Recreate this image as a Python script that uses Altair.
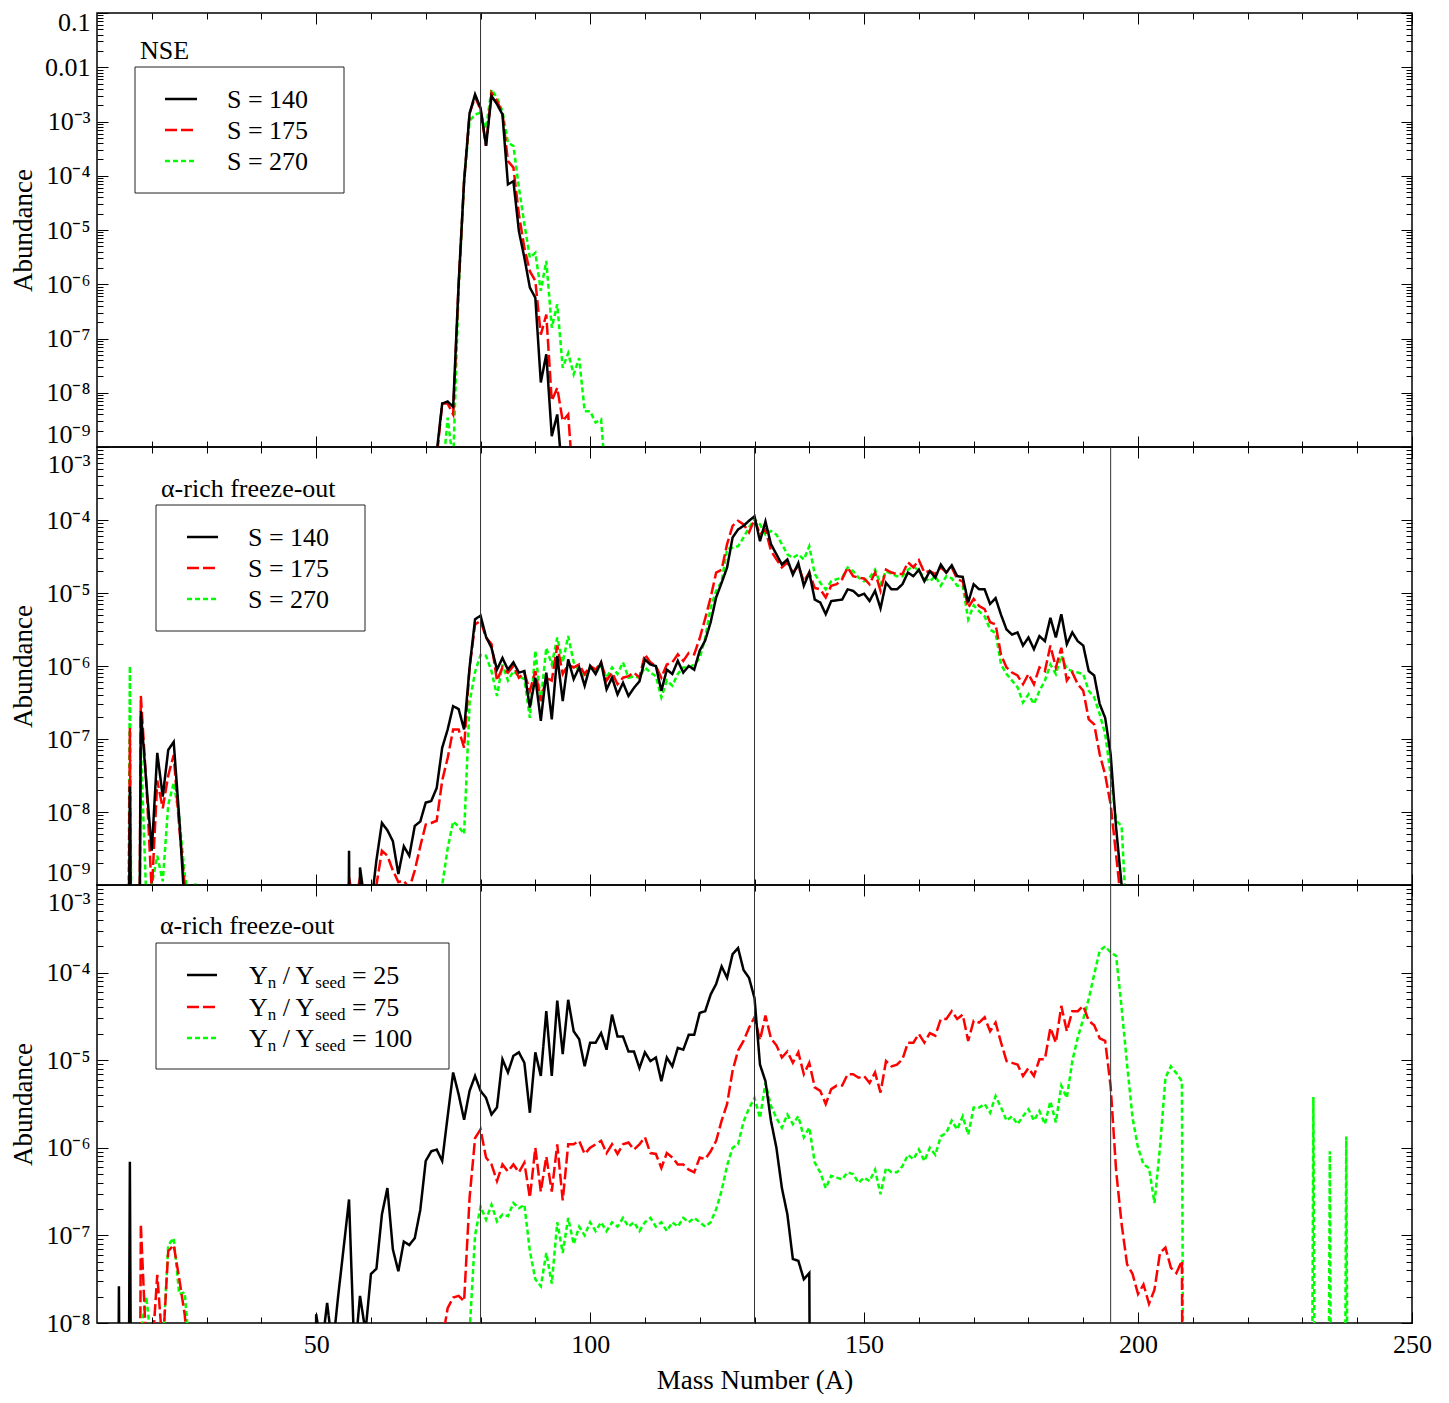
import altair as alt
import pandas as pd

FONT = "Liberation Serif"
W = 1315
H1, H2, H3 = 434, 438, 438
LOW = -20.0  # effectively zero abundance (drawn far below the panel, clipped)

# ---------------------------------------------------------------------------
# Data: log10(abundance) at consecutive mass numbers, as (first A, values)
# ---------------------------------------------------------------------------
# Panel 1 : NSE
nse_s140 = [(71, [
    LOW, -9.1, -8.20, -8.16, -8.26, -6.0, -4.1, -2.85, -2.50, -2.75,
    -3.45, -2.53, -2.68, -2.87, -4.16, -4.10, -5.02, -5.51, -6.06, -6.25,
    -7.81, -7.29, -8.80, -8.40, -9.6, LOW])]
nse_s175 = [(71, [
    LOW, -9.2, -8.2, -8.2, -8.4, -6.0, -4.1, -2.85, -2.55, -2.78,
    -3.45, -2.47, -2.62, -2.85, -3.73, -3.85, -4.71, -5.33, -5.76, -5.94,
    -6.93, -6.56, -8.15, -7.91, -8.52, -8.40, -9.8, LOW])]
nse_s270 = [(72, [
    LOW, -9.6, -8.46, -9.3, -6.1, -4.1, -2.99, -2.87, -2.84, -3.13,
    -2.41, -2.56, -2.81, -3.39, -3.45, -4.22, -4.89, -5.51, -5.42, -6.12,
    -5.57, -6.80, -6.37, -7.54, -7.27, -7.66, -7.36, -8.34, -8.34, -8.55,
    -8.49, -9.8, LOW])]

# Panel 2 : alpha-rich freeze-out, entropy S
alpha_s140 = [
    (15, [LOW, -7.65, LOW, -6.62, -7.6, -8.53, -7.19, -7.79, -7.15, -7.04, -8.07, -9.3, LOW]),
    (55, [
        LOW, -8.53, LOW, -8.76, -9.3, -9.3, -8.66, -8.15, -8.25, -8.40,
        -8.85, -8.47, -8.60, -8.19, -8.13, -7.87, -7.85, -7.67, -7.12, -6.87,
        -6.55, -6.59, -6.87, -6.02, -5.36, -5.31, -5.60, -5.75, -6.05, -5.89,
        -6.05, -5.95, -6.09, -6.07, -6.57, -6.16, -6.75, -6.09, -6.73, -5.86,
        -6.48, -5.91, -6.18, -6.02, -6.27, -6.00, -6.11, -5.95, -6.32, -6.16,
        -6.39, -6.23, -6.41, -6.30, -6.21, -5.91, -5.98, -6.00, -6.34, -6.05,
        -6.11, -5.93, -6.09, -6.00, -6.05, -5.79, -5.65, -5.40, -5.06, -4.86,
        -4.65, -4.24, -4.13, -4.08, -4.01, -3.95, -4.29, -4.02, -4.33, -4.47,
        -4.61, -4.54, -4.75, -4.59, -4.90, -4.72, -5.09, -5.13, -5.29, -5.11,
        -5.10, -5.09, -4.95, -4.97, -5.04, -5.01, -5.11, -4.97, -5.21, -4.86,
        -4.95, -4.95, -4.88, -4.72, -4.77, -4.68, -4.84, -4.70, -4.79, -4.61,
        -4.72, -4.62, -4.77, -4.78, -5.13, -4.88, -4.95, -4.95, -5.15, -5.07,
        -5.30, -5.50, -5.57, -5.54, -5.72, -5.61, -5.77, -5.59, -5.66, -5.34,
        -5.61, -5.29, -5.70, -5.54, -5.66, -5.72, -6.07, -6.13, -6.52, -6.71,
        -7.21, -8.22, -9.0, -10.0, LOW])]
alpha_s175 = [
    (15, [LOW, -6.85, LOW, -6.41, -7.6, -9.1, -7.57, -7.95, -7.5, -7.22, -8.2, -9.0, LOW]),
    (55, [
        LOW, -8.9, -9.3, -8.9, -9.5, -9.5, -9.0, -8.53, -8.6, -8.8,
        -8.96, -8.94, -9.05, -8.8, -8.47, -8.17, -8.15, -8.12, -7.57, -7.26,
        -6.87, -6.87, -7.12, -6.02, -5.43, -5.38, -5.61, -5.70, -6.20, -6.02,
        -6.09, -6.00, -6.16, -6.09, -6.34, -6.07, -6.48, -6.16, -6.20, -5.72,
        -6.11, -5.98, -6.02, -5.98, -6.11, -6.00, -6.05, -5.95, -6.20, -6.09,
        -6.25, -6.16, -6.14, -6.09, -6.16, -5.84, -5.95, -6.00, -6.16, -5.98,
        -5.95, -5.84, -5.93, -5.82, -5.84, -5.62, -5.35, -5.06, -4.72, -4.68,
        -4.33, -4.08, -4.01, -4.06, -4.17, -3.99, -4.20, -4.13, -4.42, -4.54,
        -4.65, -4.58, -4.72, -4.63, -4.84, -4.72, -4.93, -4.95, -5.06, -4.90,
        -4.88, -4.81, -4.65, -4.77, -4.79, -4.80, -4.88, -4.72, -4.97, -4.68,
        -4.72, -4.74, -4.74, -4.58, -4.65, -4.55, -4.72, -4.70, -4.74, -4.65,
        -4.72, -4.65, -4.81, -4.84, -5.20, -5.08, -5.18, -5.22, -5.40, -5.43,
        -5.85, -6.02, -6.09, -6.13, -6.25, -6.11, -6.25, -6.02, -6.07, -5.72,
        -6.02, -5.75, -6.20, -6.09, -6.25, -6.34, -6.73, -6.80, -7.21, -7.49,
        -7.90, -8.59, -9.3, LOW])]
alpha_s270 = [
    (15, [LOW, -6.0, LOW, -7.1, -9.2, -9.0, -8.6, -8.95, -7.9, -7.6, -8.07, -8.85, -9.3, -8.98, LOW]),
    (72, [
        LOW, -9.0, -8.5, -8.13, -8.2, -8.3, -6.5, -6.08, -5.85, -5.86,
        -6.07, -6.41, -5.98, -6.20, -6.07, -6.14, -6.18, -6.71, -5.79, -6.48,
        -5.75, -5.98, -5.61, -5.95, -5.59, -5.95, -6.07, -6.16, -6.02, -6.09,
        -6.00, -6.16, -6.02, -6.11, -5.95, -6.16, -6.14, -6.16, -6.02, -6.09,
        -6.14, -6.43, -6.20, -6.27, -6.11, -6.02, -6.02, -5.98, -5.89, -5.62,
        -5.20, -4.97, -4.84, -4.40, -4.38, -4.36, -4.24, -4.10, -3.99, -4.06,
        -4.20, -4.15, -4.20, -4.33, -4.47, -4.52, -4.47, -4.54, -4.36, -4.74,
        -4.86, -4.95, -4.84, -4.81, -4.79, -4.65, -4.70, -4.79, -4.84, -4.79,
        -4.68, -4.88, -4.70, -4.74, -4.77, -4.77, -4.68, -4.63, -4.70, -4.79,
        -4.84, -4.77, -4.90, -4.77, -4.80, -4.90, -4.90, -5.36, -5.17, -5.25,
        -5.32, -5.50, -5.55, -5.98, -6.11, -6.20, -6.29, -6.50, -6.39, -6.52,
        -6.34, -6.20, -5.98, -6.11, -5.86, -6.04, -6.07, -6.09, -6.11, -6.34,
        -6.43, -6.66, -6.93, -7.49, -8.12, -8.19, -9.6, LOW])]

# Panel 3 : alpha-rich freeze-out, neutron-to-seed ratio
yn_25 = [
    (13, [LOW, -7.58, LOW, -6.16, LOW]),
    (49, [
        LOW, -7.9, -8.3, -7.77, -8.3, -7.7, -7.15, -6.59, -8.4, -7.69,
        -8.1, -7.44, -7.38, -6.76, -6.46, -7.16, -7.41, -7.07, -7.11, -7.03,
        -6.71, -6.15, -6.04, -6.02, -6.15, -5.64, -5.14, -5.39, -5.68, -5.35,
        -5.18, -5.35, -5.43, -5.62, -5.54, -4.99, -5.14, -4.95, -4.91, -5.03,
        -5.60, -4.91, -5.18, -4.44, -5.18, -4.32, -4.93, -4.31, -4.67, -4.76,
        -5.07, -4.80, -4.80, -4.69, -4.88, -4.48, -4.73, -4.73, -4.90, -4.90,
        -5.09, -4.91, -5.01, -4.97, -5.24, -4.97, -5.07, -4.86, -4.88, -4.71,
        -4.71, -4.46, -4.44, -4.25, -4.13, -3.93, -4.06, -3.79, -3.72, -3.97,
        -4.06, -4.29, -5.05, -5.24, -5.69, -6.00, -6.46, -6.76, -7.27, -7.29,
        -7.50, -7.43, LOW])]
yn_75 = [
    (17, [LOW, -6.87, -8.3, -8.4, -7.45, -8.3, -7.18, -7.11, -7.49, -7.9, -8.6, LOW]),
    (72, [
        LOW, -8.2, -7.83, -7.71, -7.69, -7.75, -6.57, -5.89, -5.79, -6.11,
        -6.19, -6.38, -6.19, -6.27, -6.19, -6.28, -6.17, -6.57, -6.00, -6.50,
        -6.10, -6.50, -5.96, -6.60, -5.96, -5.96, -5.92, -6.07, -6.00, -5.96,
        -5.92, -6.06, -5.96, -6.07, -5.96, -5.94, -6.02, -5.96, -5.88, -6.06,
        -6.07, -6.23, -6.06, -6.11, -6.19, -6.19, -6.25, -6.28, -6.11, -6.13,
        -6.04, -5.92, -5.69, -5.50, -5.12, -4.89, -4.78, -4.63, -4.51, -4.77,
        -4.49, -4.75, -4.83, -4.97, -4.90, -5.03, -4.91, -5.16, -5.03, -5.31,
        -5.35, -5.50, -5.33, -5.29, -5.29, -5.16, -5.16, -5.20, -5.18, -5.26,
        -5.14, -5.37, -5.01, -5.07, -5.05, -4.99, -4.80, -4.80, -4.70, -4.80,
        -4.69, -4.72, -4.53, -4.53, -4.44, -4.53, -4.48, -4.78, -4.55, -4.57,
        -4.51, -4.67, -4.57, -4.80, -5.01, -5.03, -5.05, -5.18, -5.09, -5.18,
        -4.99, -4.99, -4.63, -4.80, -4.38, -4.67, -4.44, -4.44, -4.38, -4.55,
        -4.60, -4.75, -4.78, -5.30, -6.26, -6.87, -7.33, -7.44, -7.67, -7.56,
        -7.78, -7.62, -7.20, -7.14, -7.37, -7.43, -7.29, LOW])]
yn_100 = [
    (17, [LOW, -8.1, -7.7, -8.3, -9.0, -8.3, -7.11, -7.03, -7.67, -7.65, -8.4, LOW]),
    (77, [
        LOW, -8.1, -7.0, -6.67, -6.82, -6.65, -6.84, -6.76, -6.78, -6.63,
        -6.69, -6.65, -7.18, -7.50, -7.58, -7.20, -7.55, -6.85, -7.20, -6.80,
        -7.10, -6.90, -7.00, -6.85, -6.95, -6.85, -6.95, -6.85, -6.90, -6.80,
        -6.90, -6.85, -6.95, -6.85, -6.80, -6.90, -6.85, -6.95, -6.85, -6.90,
        -6.80, -6.85, -6.80, -6.85, -6.90, -6.85, -6.70, -6.49, -6.20, -6.00,
        -5.96, -5.70, -5.55, -5.43, -5.66, -5.26, -5.52, -5.66, -5.77, -5.62,
        -5.73, -5.64, -5.88, -5.77, -6.17, -6.28, -6.46, -6.32, -6.34, -6.36,
        -6.28, -6.30, -6.40, -6.34, -6.38, -6.25, -6.53, -6.23, -6.28, -6.28,
        -6.21, -6.08, -6.13, -6.02, -6.15, -6.00, -6.08, -5.87, -5.83, -5.69,
        -5.79, -5.64, -5.85, -5.54, -5.54, -5.50, -5.60, -5.41, -5.54, -5.69,
        -5.64, -5.73, -5.64, -5.56, -5.69, -5.58, -5.73, -5.47, -5.71, -5.29,
        -5.43, -5.01, -4.74, -4.53, -4.30, -4.02, -3.75, -3.70, -3.77, -3.81,
        -4.40, -5.05, -5.66, -6.00, -6.19, -6.23, -6.63, -6.00, -5.20, -5.07,
        -5.15, -5.24, LOW]),
    (231, [LOW, -5.42, LOW, LOW, -6.04, LOW, LOW, -5.87, LOW])]

# reference lines (mass numbers)
vlines_top = [80]
vlines_other = [80, 130, 195]

# legend texts
labels_s = ["S = 140", "S = 175", "S = 270"]
labels_yn = ["25", "75", "100"]
panel_titles = ["NSE", "\u03b1-rich freeze-out", "\u03b1-rich freeze-out"]

# tick values / labels
MAJOR_X = [50, 100, 150, 200, 250]
MINOR_X = [a for a in range(20, 250, 10) if a % 50 != 0]
SUP = ["0.1", "0.01", "10\u207b\u00b3", "10\u207b\u2074", "10\u207b\u2075",
       "10\u207b\u2076", "10\u207b\u2077", "10\u207b\u2078", "10\u207b\u2079"]
LABEL_EXPR = "[" + ",".join("'%s'" % s for s in SUP) + "][-round(log(datum.value)/LN10)-1]"

# ---------------------------------------------------------------------------
CURVES = ["c1", "c2", "c3"]
COLORS = ["#000000", "#ff0000", "#00ff00"]
DASHES = [[1, 0], [12, 4], [5, 3]]
color_scale = alt.Scale(domain=CURVES, range=COLORS)
dash_scale = alt.Scale(domain=CURVES, range=DASHES)
xscale = alt.Scale(domain=[10, 250], nice=False, zero=False)
one = pd.DataFrame({"k": [0]})

FS = 26      # legend / tick font size
FSUB = 17    # subscript size
ADV = {"Y": 0.722, "n": 0.5, " ": 0.25, "/": 0.278, "s": 0.389, "e": 0.444,
       "d": 0.5, "=": 0.564}


def tw(s, size):
    return sum(ADV.get(c, 0.5) for c in s) * size


def build_panel(curves, H, lo, hi, vlines, legend, label_offset, bottom):
    rows = []
    for key, segs in curves:
        for start, logs in segs:
            for i, v in enumerate(logs):
                rows.append({"A": start + i, "Y": 10.0 ** v, "curve": key})
    df = pd.DataFrame(rows)
    yscale = alt.Scale(type="log", domain=[10.0 ** lo, 10.0 ** hi], nice=False)
    major_y = [10.0 ** k for k in range(lo, hi + 1)]
    minor_y = [m * 10.0 ** k for k in range(lo, hi) for m in range(2, 10)]

    def X(axis):
        return alt.X("A:Q", scale=xscale, axis=axis)

    def Y(axis):
        return alt.Y("Y:Q", scale=yscale, axis=axis)

    base = alt.Chart(df)
    layers = []
    # axes carrying labels and titles
    yax = alt.Axis(orient="left", values=major_y, labelExpr=LABEL_EXPR, labelFontSize=FS,
                   labelFont=FONT, labelColor="black", ticks=False, domain=False, grid=False,
                   labelPadding=7, labelOffset=label_offset, minExtent=56, maxExtent=56,
                   labelOverlap=False, labelFlush=False, title="Abundance", titleFont=FONT,
                   titleFontSize=27, titleFontWeight="normal", titleColor="black", titlePadding=4)
    if bottom:
        xax = alt.Axis(orient="bottom", values=MAJOR_X, format="d", labelFontSize=FS,
                       labelFont=FONT, labelColor="black", ticks=False, domain=False, grid=False,
                       labelPadding=8, labelFlush=False, labelOverlap=False,
                       title="Mass Number (A)", titleFont=FONT, titleFontSize=27,
                       titleFontWeight="normal", titleColor="black", titlePadding=10)
    else:
        xax = None
    inv = base.mark_line(strokeOpacity=0, clip=True)
    layers.append(inv.encode(x=X(xax), y=Y(yax)))
    # inward ticks on all four sides (major and minor)
    tc = dict(labels=False, domain=False, grid=False, title=None, tickColor="black", tickWidth=1)
    for size, xv, yv in [(11, MAJOR_X, major_y), (6, MINOR_X, minor_y)]:
        layers.append(inv.encode(
            x=X(alt.Axis(orient="top", offset=-H, values=xv, tickSize=size, **tc)),
            y=Y(alt.Axis(orient="right", offset=-W, values=yv, tickSize=size, **tc))))
        layers.append(inv.encode(
            x=X(alt.Axis(orient="bottom", offset=-H, values=xv, tickSize=size, **tc)),
            y=Y(alt.Axis(orient="left", offset=-W, values=yv, tickSize=size, **tc))))

    # data curves (green first, black on top)
    for key in ["c3", "c2", "c1"]:
        layers.append(base.transform_filter(alt.datum.curve == key)
                      .mark_line(strokeWidth=2.5, clip=True)
                      .encode(x=X(None), y=Y(None),
                              color=alt.Color("curve:N", scale=color_scale, legend=None),
                              strokeDash=alt.StrokeDash("curve:N", scale=dash_scale, legend=None)))
    # vertical reference lines
    layers.append(alt.Chart(pd.DataFrame({"A": vlines})).mark_rule(color="#333333", strokeWidth=1)
                  .encode(x=X(None)))

    # legend (box, sample lines, labels) and panel annotation
    (bx0, bx1, by0, by1), (lx0, lx1), rows_y, tx, title_xy, title, labels, sub = legend
    layers.append(alt.Chart(one).mark_rect(fill="white", stroke="#222222", strokeWidth=1)
                  .encode(x=alt.value(bx0), x2=alt.value(bx1), y=alt.value(by0), y2=alt.value(by1)))
    for i, ry in enumerate(rows_y):
        mk = dict(color=COLORS[i], strokeWidth=2.5)
        if i > 0:
            mk["strokeDash"] = DASHES[i]
        layers.append(alt.Chart(one).mark_rule(**mk)
                      .encode(x=alt.value(lx0), x2=alt.value(lx1), y=alt.value(ry)))
        base_y = ry + 9
        if not sub:
            pieces = [(labels[i], FS, tx, base_y)]
        else:
            x = tx
            pieces = [("Y", FS, x, base_y)]
            x += tw("Y", FS)
            pieces.append(("n", FSUB, x, base_y + 4))
            x += tw("n", FSUB) + tw(" ", FS)
            pieces.append(("/ Y", FS, x, base_y))
            x += tw("/ Y", FS)
            pieces.append(("seed", FSUB, x, base_y + 4))
            x += tw("seed", FSUB) + tw(" ", FS)
            pieces.append(("= " + labels[i], FS, x, base_y))
        for txt, size, px, py in pieces:
            layers.append(alt.Chart(one).mark_text(text=txt, font=FONT, fontSize=size, align="left",
                                                   baseline="alphabetic", color="black")
                          .encode(x=alt.value(px), y=alt.value(py)))
    layers.append(alt.Chart(one).mark_text(text=title, font=FONT, fontSize=FS, align="left",
                                           baseline="alphabetic", color="black")
                  .encode(x=alt.value(title_xy[0]), y=alt.value(title_xy[1])))

    return alt.layer(*layers).resolve_axis(x="independent", y="independent").properties(width=W, height=H)


p1 = build_panel(
    [("c1", nse_s140), ("c2", nse_s175), ("c3", nse_s270)], H1, -9, -1, vlines_top,
    ((38, 247, 54, 180), (68, 100), [86, 117, 148], 130, (43, 46), panel_titles[0], labels_s, False),
    {"condition": [{"test": "datum.value > 0.05", "value": 9},
                   {"test": "datum.value < 2e-9", "value": -13}], "value": 0},
    False)
p2 = build_panel(
    [("c1", alpha_s140), ("c2", alpha_s175), ("c3", alpha_s270)], H2, -9, -3, vlines_other,
    ((59, 268, 58, 184), (90, 121), [90, 121, 152], 151, (64, 50), panel_titles[1], labels_s, False),
    {"condition": [{"test": "datum.value > 5e-4", "value": 17},
                   {"test": "datum.value < 2e-9", "value": -13}], "value": 0},
    False)
p3 = build_panel(
    [("c1", yn_25), ("c2", yn_75), ("c3", yn_100)], H3, -8, -3, vlines_other,
    ((59, 352, 58, 184), (90, 120), [90, 122, 153], 152, (63, 49), panel_titles[2], labels_yn, True),
    {"condition": [{"test": "datum.value > 5e-4", "value": 17}], "value": 0},
    True)

chart = (alt.vconcat(p1, p2, p3, spacing=0, bounds="flush")
         .properties(padding={"left": 0, "top": 0, "right": 0, "bottom": 0})
         .configure_view(stroke="black", strokeWidth=1.5))

chart.save("out.html", embed_options={"renderer": "svg", "actions": False})
